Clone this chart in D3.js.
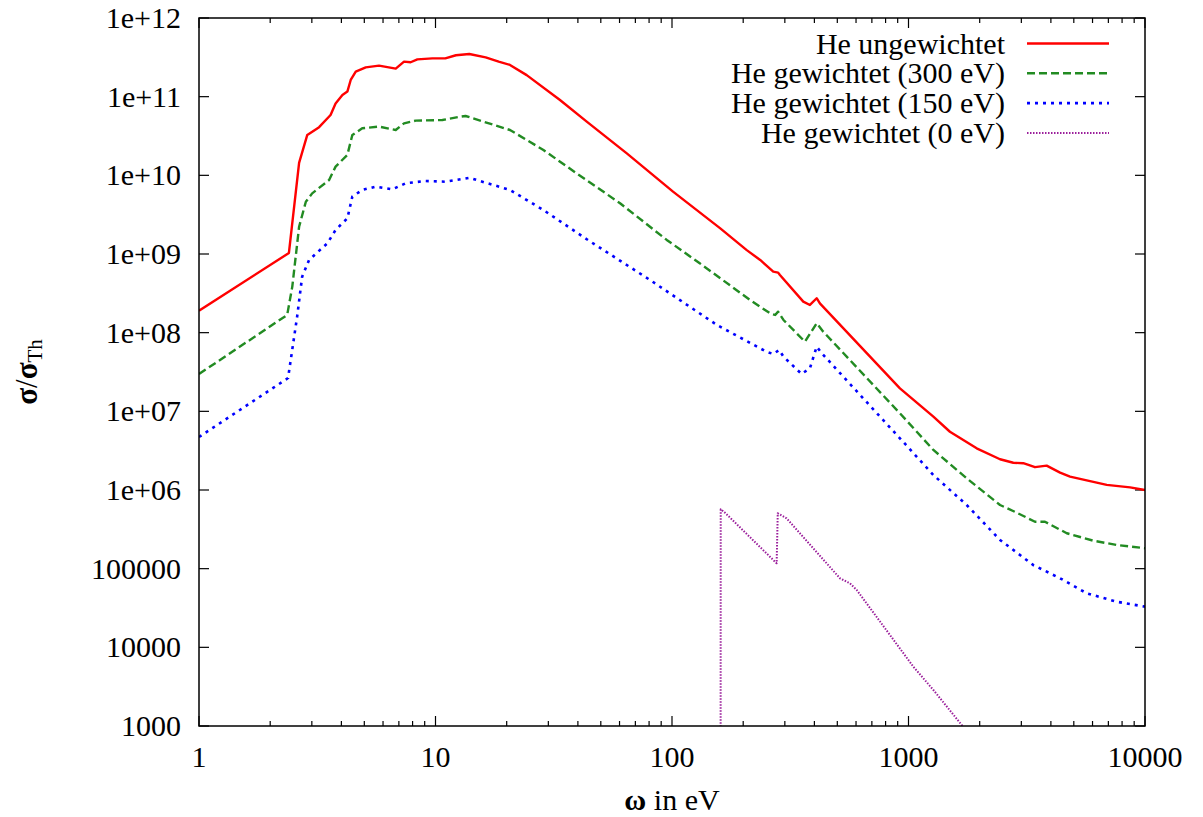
<!DOCTYPE html>
<html lang="de">
<head>
<meta charset="utf-8">
<script src="https://d3js.org/d3.v7.min.js"></script>
<style>
body { margin: 0; background: #fff; }
text { font-family: "Liberation Serif", "DejaVu Serif", serif; fill: #000; }
</style>
</head>
<body>
<svg id="chart" width="1203" height="817"></svg>
<script>

// energies (eV) and cross sections
var redX = [1, 2.40, 2.65, 2.87, 3.22, 3.60, 3.78, 4.04, 4.24, 4.38, 4.60, 5.07, 5.77, 6.79, 7.36, 7.85, 8.38, 9.70, 11.0, 12.2, 13.9, 16.3, 18.5, 20.65, 24.3, 33.6, 43.6, 64.4, 101, 160, 207, 236, 268, 281, 286, 359, 383, 409, 422, 920, 1274, 1497, 1942, 2438, 2774, 3057, 3427, 3838, 4375, 4820, 6890, 8650, 10000];
var redY = [1.9e8, 1.03e9, 1.44e10, 3.26e10, 4.1e10, 5.85e10, 8.2e10, 1.05e11, 1.16e11, 1.63e11, 2.08e11, 2.36e11, 2.48e11, 2.27e11, 2.79e11, 2.74e11, 2.98e11, 3.07e11, 3.07e11, 3.36e11, 3.49e11, 3.16e11, 2.79e11, 2.53e11, 1.88e11, 9.08e10, 4.81e10, 1.9e10, 6.2e9, 2.12e9, 1.12e9, 8.4e8, 5.96e8, 5.8e8, 5.4e8, 2.48e8, 2.25e8, 2.74e8, 2.36e8, 1.96e7, 8.55e6, 5.5e6, 3.39e6, 2.46e6, 2.22e6, 2.19e6, 1.95e6, 2.04e6, 1.66e6, 1.48e6, 1.16e6, 1.08e6, 1.0e6];

var greenX = [1, 2.36, 2.48, 2.65, 2.83, 3.01, 3.55, 3.78, 4.24, 4.45, 4.90, 5.77, 6.79, 7.36, 8.25, 10.7, 12.7, 13.4, 20.65, 28.6, 39.5, 60.3, 95, 131, 214, 260, 273, 281, 296, 365, 409, 436, 920, 1274, 1762, 2438, 2867, 3427, 3777, 4670, 6040, 7590, 10000];
var greenY = [2.98e7, 1.68e8, 3.85e8, 2.22e9, 4.62e9, 5.9e9, 8.73e9, 1.29e10, 1.82e10, 3.26e10, 3.96e10, 4.17e10, 3.77e10, 4.58e10, 4.96e10, 5.05e10, 5.56e10, 5.68e10, 3.77e10, 2.1e10, 1.06e10, 4.42e9, 1.51e9, 7.62e8, 2.6e8, 1.76e8, 1.68e8, 1.85e8, 1.45e8, 7.68e7, 1.32e8, 1.03e8, 9.44e6, 3.23e6, 1.41e6, 6.45e5, 5.15e5, 3.95e5, 3.95e5, 2.82e5, 2.27e5, 2.0e5, 1.82e5];

var blueX = [1, 2.38, 2.60, 2.73, 2.92, 3.49, 3.78, 4.24, 4.45, 4.90, 5.59, 6.56, 7.48, 9.09, 11.0, 13.9, 20.65, 28.6, 43.6, 80.7, 155, 251, 268, 284, 296, 353, 383, 409, 430, 920, 1274, 1762, 2438, 3372, 4375, 5670, 7590, 10000];
var blueY = [4.72e6, 2.65e7, 1.6e8, 5.15e8, 8.4e8, 1.37e9, 2.02e9, 2.84e9, 5.36e9, 6.52e9, 7.18e9, 6.63e9, 7.93e9, 8.47e9, 8.3e9, 9.3e9, 6.52e9, 3.62e9, 1.54e9, 4.68e8, 1.25e8, 5.72e7, 5.36e7, 6.03e7, 4.95e7, 2.99e7, 3.52e7, 6.64e7, 5.47e7, 4.54e6, 1.55e6, 6.45e5, 2.32e5, 1.11e5, 7.55e4, 4.87e4, 3.8e4, 3.29e4];

var purpleX = [160.5, 160.7, 167.5, 277, 280, 305, 513, 566, 604, 1048, 1274, 1679, 1750];
var purpleY = [100, 5.69e5, 5.15e5, 1.17e5, 5.06e5, 4.37e5, 7.55e4, 6.5e4, 5.36e4, 5.68e3, 2.87e3, 1.03e3, 800];

var seriesNames = ["He ungewichtet", "He gewichtet (300 eV)", "He gewichtet (150 eV)", "He gewichtet (0 eV)"];
var xTicks = [1, 10, 100, 1000, 10000];
var xTickLabels = ["1", "10", "100", "1000", "10000"];
var yTicks = [1e3, 1e4, 1e5, 1e6, 1e7, 1e8, 1e9, 1e10, 1e11, 1e12];
var yTickLabels = ["1000", "10000", "100000", "1e+06", "1e+07", "1e+08", "1e+09", "1e+10", "1e+11", "1e+12"];

var svg = d3.select("#chart");
var plotLeft = 199, plotRight = 1145, plotTop = 18, plotBottom = 726;

var x = d3.scaleLog().domain([1, 10000]).range([plotLeft, plotRight]);
var y = d3.scaleLog().domain([1000, 1e12]).range([plotBottom, plotTop]);

svg.append("clipPath").attr("id", "clip")
  .append("rect").attr("x", plotLeft).attr("y", plotTop)
  .attr("width", plotRight - plotLeft).attr("height", plotBottom - plotTop);

// minor x ticks
var minorX = [];
for (var d = 1; d < 10000; d *= 10)
  for (var k = 2; k < 10; k++) minorX.push(d * k);

var ticks = svg.append("g").attr("stroke", "#000").attr("stroke-width", 1.2);
minorX.forEach(function(v) {
  ticks.append("line").attr("x1", x(v)).attr("x2", x(v)).attr("y1", plotBottom).attr("y2", plotBottom - 5);
  ticks.append("line").attr("x1", x(v)).attr("x2", x(v)).attr("y1", plotTop).attr("y2", plotTop + 5);
});
xTicks.forEach(function(v) {
  ticks.append("line").attr("x1", x(v)).attr("x2", x(v)).attr("y1", plotBottom).attr("y2", plotBottom - 10);
  ticks.append("line").attr("x1", x(v)).attr("x2", x(v)).attr("y1", plotTop).attr("y2", plotTop + 10);
});
yTicks.forEach(function(v) {
  ticks.append("line").attr("x1", plotLeft).attr("x2", plotLeft + 10).attr("y1", y(v)).attr("y2", y(v));
  ticks.append("line").attr("x1", plotRight).attr("x2", plotRight - 10).attr("y1", y(v)).attr("y2", y(v));
});

// tick labels
svg.append("g").selectAll("text").data(xTicks).join("text")
  .attr("x", function(d) { return x(d); })
  .attr("y", 767)
  .attr("text-anchor", "middle")
  .attr("font-size", 30)
  .text(function(d, i) { return xTickLabels[i]; });

svg.append("g").selectAll("text").data(yTicks).join("text")
  .attr("x", 181)
  .attr("y", function(d) { return y(d) + 10; })
  .attr("text-anchor", "end")
  .attr("font-size", 30)
  .text(function(d, i) { return yTickLabels[i]; });

// curves
var styles = [
  { xs: redX, ys: redY, color: "#ff0000", width: 2.4, dash: null },
  { xs: greenX, ys: greenY, color: "#228b22", width: 2.4, dash: "8,4" },
  { xs: blueX, ys: blueY, color: "#0000ff", width: 2.6, dash: "3,5" },
  { xs: purpleX, ys: purpleY, color: "#9b1f9b", width: 2, dash: "1.5,1.5" }
];

var line = d3.line()
  .x(function(d) { return x(d[0]); })
  .y(function(d) { return y(d[1]); });

var curves = svg.append("g").attr("clip-path", "url(#clip)");
styles.forEach(function(s) {
  curves.append("path")
    .attr("d", line(d3.zip(s.xs, s.ys)))
    .attr("fill", "none")
    .attr("stroke", s.color)
    .attr("stroke-width", s.width)
    .attr("stroke-dasharray", s.dash)
    .attr("stroke-linejoin", "round");
});

// border
svg.append("rect")
  .attr("x", plotLeft).attr("y", plotTop)
  .attr("width", plotRight - plotLeft).attr("height", plotBottom - plotTop)
  .attr("fill", "none").attr("stroke", "#000").attr("stroke-width", 1.5);

// legend
var legend = svg.append("g");
styles.forEach(function(s, i) {
  var ly = 43.5 + i * 29.8;
  legend.append("text")
    .attr("x", 1005).attr("y", ly + 10)
    .attr("text-anchor", "end")
    .attr("font-size", 30)
    .text(seriesNames[i]);
  legend.append("line")
    .attr("x1", 1027).attr("x2", 1109)
    .attr("y1", ly).attr("y2", ly)
    .attr("stroke", s.color)
    .attr("stroke-width", s.width)
    .attr("stroke-dasharray", s.dash);
});

// axis titles
svg.append("text")
  .attr("x", 672).attr("y", 810)
  .attr("text-anchor", "middle")
  .attr("font-size", 30)
  .html('<tspan font-weight="bold">ω</tspan> in eV');

svg.append("text")
  .attr("transform", "translate(37,372) rotate(-90)")
  .attr("text-anchor", "middle")
  .attr("font-size", 31)
  .html('<tspan font-weight="bold">σ</tspan>/<tspan font-weight="bold">σ</tspan><tspan font-size="21" dy="5">Th</tspan>');

</script>
</body>
</html>
